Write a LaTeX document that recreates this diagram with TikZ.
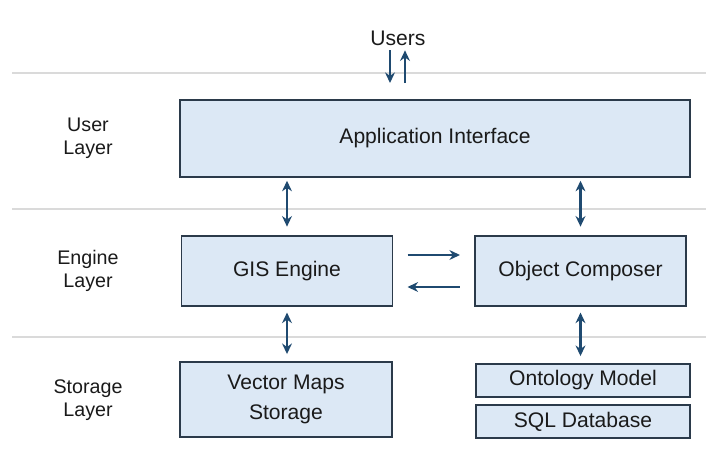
\documentclass[tikz,border=0pt]{standalone}
\usepackage{fontspec}
\setmainfont{Liberation Sans}
\usepackage{xcolor}
\usetikzlibrary{arrows.meta}
\definecolor{boxfill}{HTML}{DCE8F5}
\definecolor{boxline}{HTML}{2B3A4A}
\definecolor{arrblue}{HTML}{1F4A70}
\definecolor{sepgray}{HTML}{DADADA}
\definecolor{txt}{HTML}{1A1A1A}

\begin{document}
\begin{tikzpicture}[
    x=0.025cm, y=-0.025cm,
    block/.style={draw=boxline, line width=1.3pt, fill=boxfill, minimum width=#1, align=center, font=\fontsize{15}{21}\selectfont, text=txt},
    layer/.style={align=center, font=\fontsize{14}{16.5}\selectfont, text=txt},
    sep/.style={sepgray, line width=1.6pt},
    arr/.style={->, line width=1.6pt, arrblue, >={Stealth[length=7.5pt,width=7pt]}},
    barr/.style={<->, line width=1.6pt, arrblue, >={Stealth[length=7.5pt,width=7pt]}}
]
\useasboundingbox (0,0) rectangle (706,455);

% layer separators
\draw[sep] (12,73) -- (706,73);
\draw[sep] (12,209) -- (706,209);
\draw[sep] (12,337) -- (706,337);

\node[layer, font=\fontsize{15}{18}\selectfont] (users) at (398,38) {Users};
\node[layer] (userl) at (88,138) {User\\Layer};
\node[layer] (enginel) at (88,271) {Engine\\Layer};
\node[layer] (storel) at (88,400) {Storage\\Layer};

\node[block=12.75cm, minimum height=1.925cm] (app) at (435,138.5) {Application Interface};
\node[block=5.275cm, minimum height=1.75cm] (gis) at (287,271) {GIS Engine};
\node[block=5.275cm, minimum height=1.75cm] (obj) at (580.5,271) {Object Composer};
\node[block=5.3cm, minimum height=1.875cm] (vec) at (286,399.5) {Vector Maps\\Storage};
\node[block=5.35cm, minimum height=0.825cm] (onto) at (583,380.5) {Ontology Model};
\node[block=5.35cm, minimum height=0.825cm] (sql) at (583,421.5) {SQL Database};

% users in and out
\coordinate (uin) at (390,83);
\coordinate (uout) at (405,83);
\draw[arr] (users.south -| uin) -- (uin);
\draw[arr] (uout) -- (users.south -| uout);

\draw[barr, shorten <=2pt, shorten >=6pt] (gis.north |- app.south) -- (gis.north);
\draw[barr, shorten <=2pt, shorten >=6pt] (obj.north |- app.south) -- (obj.north);
\draw[arr, shorten <=10pt, shorten >=10pt] ([yshift=0.4cm]gis.east) -- ([yshift=0.4cm]obj.west);
\draw[arr, shorten <=10pt, shorten >=10pt] ([yshift=-0.4cm]obj.west) -- ([yshift=-0.4cm]gis.east);
\draw[barr, shorten <=4pt, shorten >=5pt] (gis.south) -- (gis.south |- vec.north);
\draw[barr, shorten <=4pt, shorten >=5pt] (obj.south) -- (obj.south |- onto.north);
\end{tikzpicture}
\end{document}
